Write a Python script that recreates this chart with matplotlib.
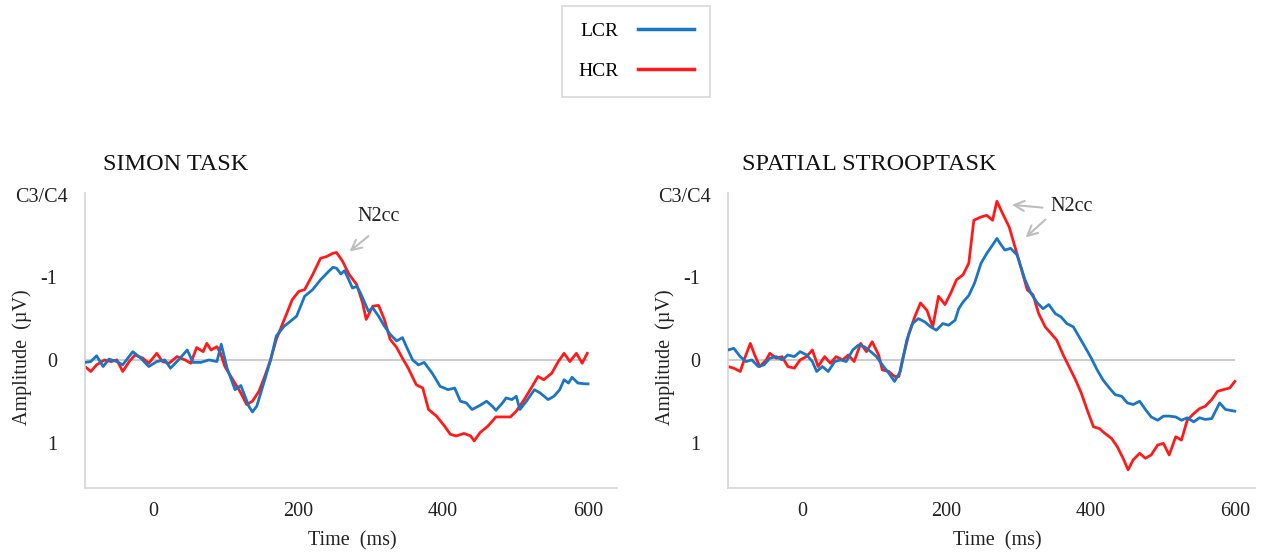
import numpy as np
import matplotlib
matplotlib.use("Agg")
import matplotlib.pyplot as plt
from matplotlib.lines import Line2D

plt.rcParams['font.family'] = ['Liberation Serif', 'DejaVu Serif']

# --- Simon task (C3/C4), time in ms, amplitude in uV ---
simon_lcr_t = [-94, -86, -78, -69, -61, -50, -42, -28, -17, -6, 5, 16, 24, 35, 47, 55, 66, 77, 88, 94,
               102, 113, 121, 132, 137, 143, 154, 162, 170, 181, 187, 198, 209, 220, 231, 242, 248, 253,
               259, 264, 270, 275, 281, 286, 292, 297, 303, 311, 319, 327, 336, 344, 349, 358, 366, 374,
               385, 396, 407, 416, 424, 432, 440, 451, 460, 468, 473, 482, 487, 495, 501, 506, 515, 526,
               534, 545, 553, 561, 567, 573, 578, 586, 597, 600]
simon_lcr_a = [0.03, 0.02, -0.05, 0.08, -0.01, 0.02, 0.06, -0.10, -0.02, 0.08, 0.02, 0.00, 0.10, 0.00,
               -0.12, 0.03, 0.03, 0.00, 0.02, -0.19, 0.10, 0.36, 0.31, 0.56, 0.63, 0.56, 0.24, 0.00, -0.29,
               -0.41, -0.45, -0.53, -0.77, -0.85, -0.97, -1.07, -1.12, -1.11, -1.04, -1.08, -0.97, -0.87,
               -0.89, -0.81, -0.69, -0.59, -0.63, -0.53, -0.41, -0.31, -0.23, -0.27, -0.17, 0.00, 0.06,
               0.03, 0.16, 0.32, 0.36, 0.34, 0.50, 0.52, 0.60, 0.55, 0.50, 0.56, 0.61, 0.52, 0.46, 0.48,
               0.44, 0.60, 0.50, 0.36, 0.40, 0.48, 0.44, 0.36, 0.24, 0.28, 0.21, 0.28, 0.29, 0.29]

simon_hcr_t = [-94, -86, -78, -67, -58, -50, -42, -33, -25, -14, -6, 5, 13, 22, 33, 44, 52, 60, 69, 74,
               80, 88, 93, 99, 110, 121, 129, 137, 146, 154, 162, 170, 181, 192, 201, 209, 220, 231, 239,
               248, 253, 261, 270, 281, 289, 294, 303, 311, 319, 327, 336, 344, 352, 363, 372, 380, 391,
               402, 410, 418, 429, 438, 443, 451, 462, 473, 484, 493, 501, 512, 523, 531, 539, 550, 559,
               567, 575, 584, 592, 599]
simon_hcr_a = [0.08, 0.14, 0.06, 0.00, 0.02, 0.00, 0.14, 0.02, -0.06, -0.02, 0.04, -0.08, 0.02, 0.04,
               -0.04, 0.00, 0.04, -0.15, -0.10, -0.20, -0.12, -0.16, -0.08, 0.08, 0.24, 0.40, 0.54, 0.50,
               0.38, 0.20, 0.00, -0.25, -0.49, -0.73, -0.83, -0.85, -1.03, -1.23, -1.25, -1.29, -1.30,
               -1.20, -1.04, -0.91, -0.69, -0.49, -0.65, -0.66, -0.49, -0.25, -0.15, -0.02, 0.10, 0.30,
               0.34, 0.60, 0.68, 0.80, 0.90, 0.92, 0.89, 0.92, 0.98, 0.88, 0.80, 0.69, 0.69, 0.69, 0.62,
               0.48, 0.32, 0.20, 0.24, 0.16, 0.02, -0.08, 0.02, -0.08, 0.04, -0.08]

# --- Spatial Stroop task (C3/C4) ---
stroop_lcr_t = [-103, -95, -86, -78, -70, -61, -53, -45, -36, -28, -20, -11, -3, 6, 14, 20, 28, 36, 45,
                53, 61, 70, 78, 86, 95, 103, 111, 120, 128, 136, 145, 153, 161, 170, 178, 186, 195, 203,
                212, 217, 223, 231, 239, 248, 256, 264, 270, 276, 281, 289, 298, 303, 309, 317, 326, 334,
                342, 351, 359, 367, 376, 384, 392, 401, 409, 417, 426, 434, 443, 451, 459, 468, 476, 484,
                493, 501, 509, 518, 526, 534, 543, 551, 559, 568, 579, 587, 600]
stroop_lcr_a = [-0.12, -0.14, -0.04, 0.02, 0.00, 0.08, 0.06, -0.02, -0.04, 0.00, -0.06, -0.04, -0.10,
                -0.06, 0.02, 0.14, 0.08, 0.14, 0.02, 0.00, 0.02, -0.12, -0.18, -0.16, -0.10, -0.04, 0.06,
                0.16, 0.26, 0.14, -0.24, -0.44, -0.50, -0.46, -0.40, -0.36, -0.44, -0.42, -0.48, -0.62,
                -0.70, -0.78, -0.93, -1.17, -1.29, -1.39, -1.47, -1.39, -1.33, -1.35, -1.27, -1.13, -0.97,
                -0.81, -0.69, -0.62, -0.67, -0.56, -0.52, -0.44, -0.40, -0.28, -0.16, -0.02, 0.12, 0.24,
                0.34, 0.42, 0.44, 0.52, 0.54, 0.50, 0.60, 0.69, 0.73, 0.68, 0.68, 0.69, 0.73, 0.70, 0.75,
                0.70, 0.72, 0.71, 0.52, 0.60, 0.62]

stroop_hcr_t = [-103, -95, -86, -79, -72, -66, -59, -50, -45, -36, -28, -20, -11, -3, 6, 14, 22, 31, 39,
                47, 56, 64, 72, 81, 89, 97, 106, 111, 120, 128, 134, 139, 148, 156, 164, 173, 181, 189,
                198, 206, 214, 223, 231, 238, 248, 256, 264, 270, 278, 287, 295, 303, 312, 320, 328, 337,
                345, 353, 362, 370, 379, 387, 395, 404, 412, 420, 429, 437, 445, 452, 459, 468, 476, 484,
                493, 501, 509, 518, 526, 534, 543, 551, 559, 568, 576, 584, 593, 600]
stroop_hcr_a = [0.08, 0.10, 0.14, -0.04, -0.20, -0.06, 0.08, 0.00, -0.08, -0.02, -0.04, 0.08, 0.10,
                0.00, -0.04, -0.12, 0.08, -0.04, 0.04, -0.04, 0.00, -0.06, 0.02, -0.20, -0.10, -0.22,
                -0.06, 0.12, 0.14, 0.20, 0.20, 0.00, -0.32, -0.52, -0.69, -0.60, -0.40, -0.77, -0.67,
                -0.81, -0.97, -1.03, -1.17, -1.69, -1.73, -1.75, -1.69, -1.92, -1.77, -1.61, -1.37, -1.13,
                -0.85, -0.79, -0.56, -0.40, -0.32, -0.24, -0.06, 0.08, 0.24, 0.40, 0.60, 0.81, 0.83, 0.89,
                0.95, 1.05, 1.19, 1.33, 1.21, 1.13, 1.19, 1.15, 1.03, 1.01, 1.15, 0.93, 0.97, 0.73, 0.65,
                0.59, 0.56, 0.48, 0.38, 0.36, 0.34, 0.26]

x_ticks = [0, 200, 400, 600]
y_ticks = [-1, 0, 1]

BLUE = '#1a75c4'
RED = '#ff1a1a'
GRID = '#c8c8c8'
SPINE = '#d4d4d4'
W, H = 1267, 559

fig = plt.figure(figsize=(W / 100, H / 100), dpi=100)


def px(x, y):
    return x / W, 1 - y / H


def panel(rect, lcr_t, lcr_a, hcr_t, hcr_a, xlim, title, tx, arrows, ntxt):
    ax = fig.add_axes(rect)
    ax.hlines(0, lcr_t[0], lcr_t[-1], color=GRID, lw=1.3, zorder=1)
    ax.plot(lcr_t, lcr_a, color=BLUE, lw=2.0, zorder=3, solid_joinstyle='round')
    ax.plot(hcr_t, hcr_a, color=RED, lw=2.0, zorder=2, solid_joinstyle='round')
    ax.set_xlim(*xlim)
    ax.set_ylim(1.55, -2.02)
    ax.set_xticks(x_ticks)
    ax.set_yticks(y_ticks)
    ax.set_yticklabels(['-1', '0', '1'])
    ax.tick_params(axis='both', length=0, labelsize=14.5, colors='#222222')
    ax.tick_params(axis='y', pad=20)
    ax.tick_params(axis='x', pad=10)
    for s in ['top', 'right']:
        ax.spines[s].set_visible(False)
    for s in ['left', 'bottom']:
        ax.spines[s].set_color(SPINE)
        ax.spines[s].set_linewidth(1.2)
    for tail, tip in arrows:
        ax.annotate('', xy=tip, xytext=tail,
                    arrowprops=dict(arrowstyle='->', color='#bdbdbd', lw=1.5,
                                    mutation_scale=18))
    ax.text(ntxt[0], ntxt[1], 'N2cc', fontsize=14.5, ha='center', va='center',
            color='#222222')
    fig.text(*px(tx, 165), title, fontsize=17.5, ha='left', va='center', color='#111111')
    return ax


ax1 = panel([85 / W, 1 - 488 / H, 532 / W, 295 / H],
            simon_lcr_t, simon_lcr_a, simon_hcr_t, simon_hcr_a,
            (-94, 640), 'SIMON TASK', 103,
            [((300, -1.52), (268, -1.29))], (311, -1.74))
ax2 = panel([728 / W, 1 - 488 / H, 527 / W, 295 / H],
            stroop_lcr_t, stroop_lcr_a, stroop_hcr_t, stroop_hcr_a,
            (-103, 628), 'SPATIAL STROOPTASK', 742,
            [((337, -1.84), (287, -1.88)), ((340, -1.72), (307, -1.46))], (374, -1.86))

for x0 in (0, 643):
    fig.text(*px(15 + x0, 198), 'C3/C4', fontsize=14.5, ha='left', va='center', color='#222222')
    fig.text(*px(22 + x0, 357), 'Amplitude  (µV)', fontsize=14.5, rotation=90,
             ha='center', va='center', color='#222222')
for xc in (352, 997):
    fig.text(*px(xc, 541), 'Time  (ms)', fontsize=14.5, ha='center', va='center', color='#222222')

handles = [Line2D([], [], color=BLUE, lw=2.5), Line2D([], [], color=RED, lw=2.5)]
leg = fig.legend(handles, ['LCR', 'HCR'], loc='upper left', bbox_to_anchor=px(562, 6),
                 markerfirst=False, fontsize=14, frameon=True, fancybox=False,
                 handlelength=2.85, handletextpad=1.0, labelspacing=1.15,
                 borderpad=0.85, borderaxespad=0, edgecolor='#d0d0d0')
leg.get_frame().set_linewidth(1.2)

fig.savefig('out.png', dpi=100)
